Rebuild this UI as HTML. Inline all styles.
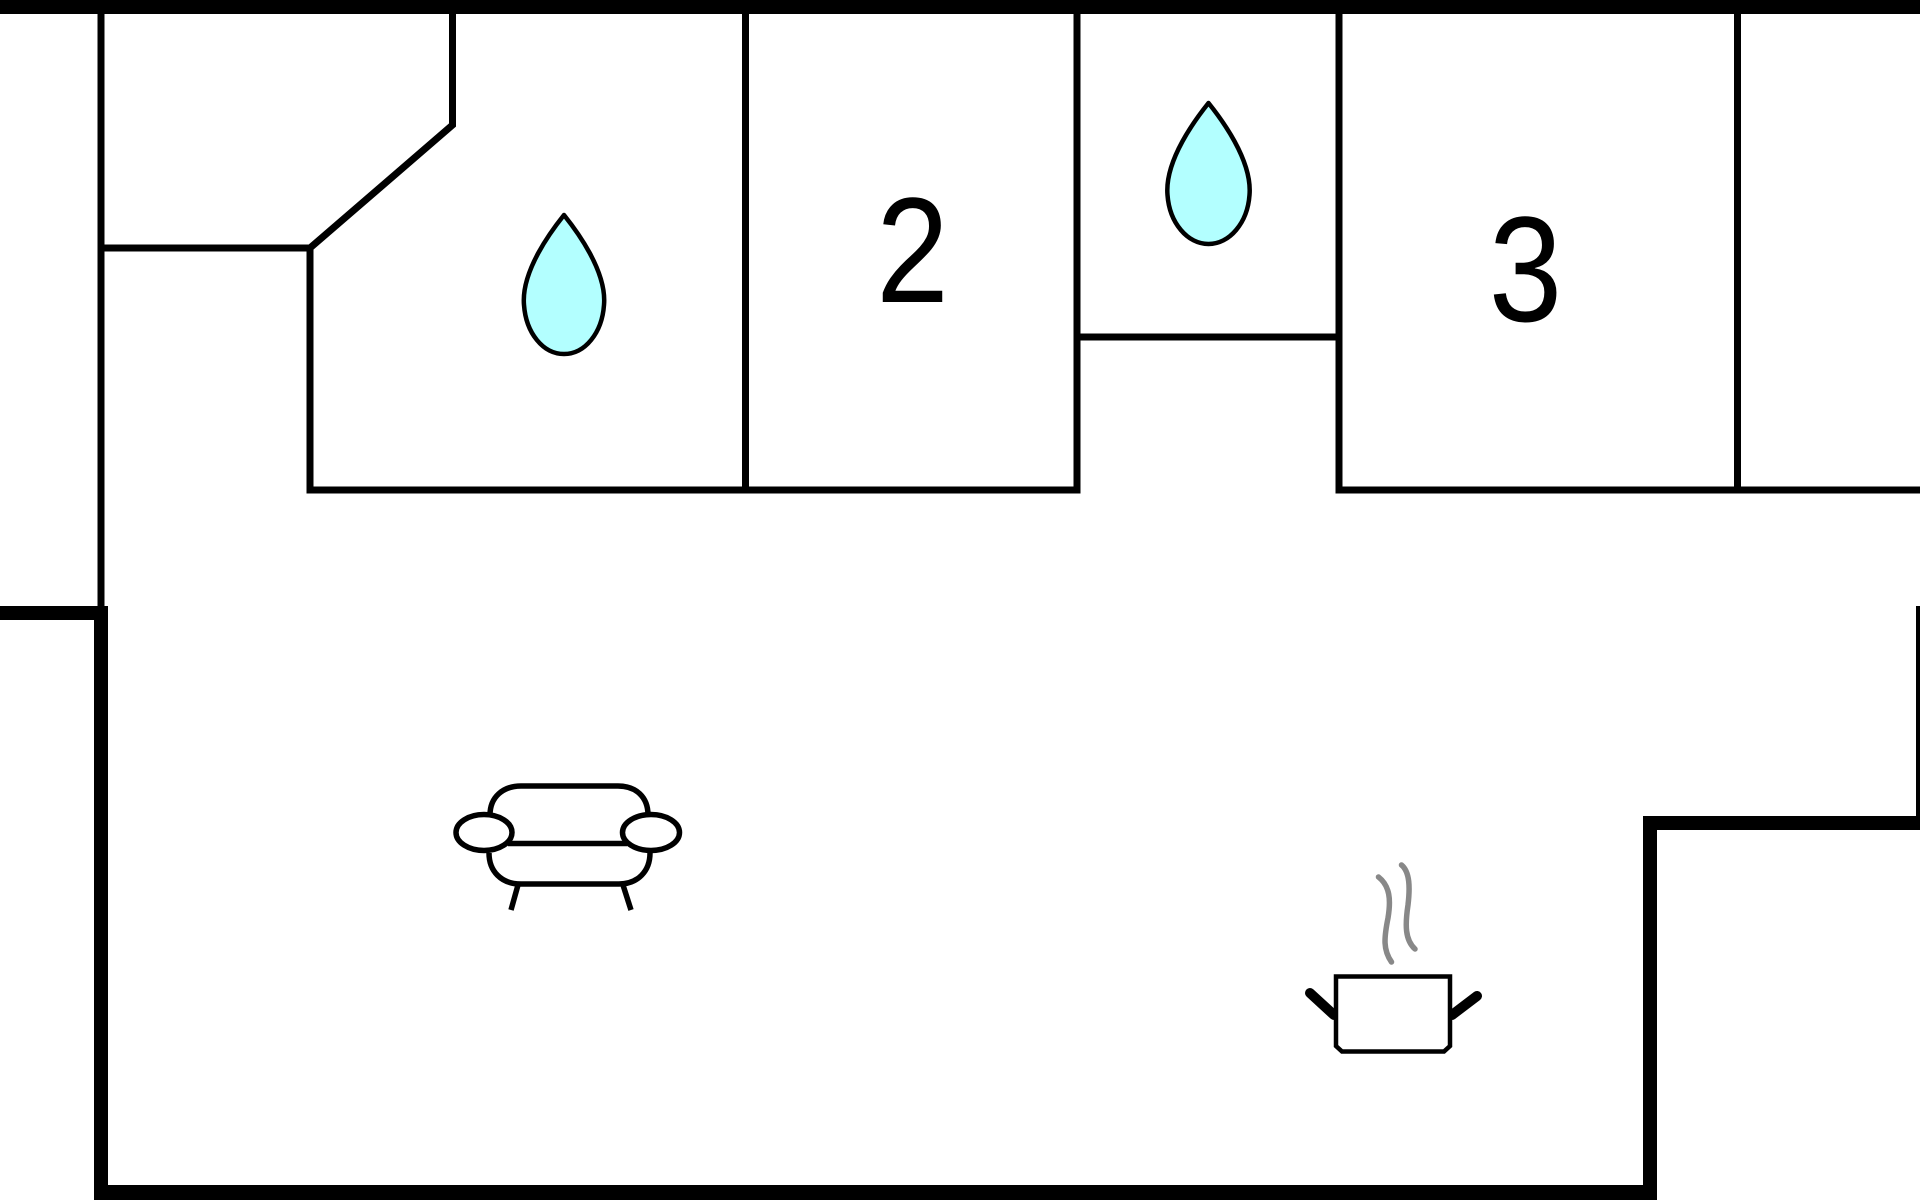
<!DOCTYPE html>
<html>
<head>
<meta charset="utf-8">
<style>
  html, body { margin: 0; padding: 0; background: #fff; }
  body { width: 1920px; height: 1200px; overflow: hidden; }
  svg { display: block; }
</style>
</head>
<body>
<svg width="1920" height="1200" viewBox="0 0 1920 1200" xmlns="http://www.w3.org/2000/svg">
  <rect x="0" y="0" width="1920" height="1200" fill="#ffffff"/>

  <!-- Top thick wall -->
  <rect x="0" y="0" width="1920" height="14" fill="#000"/>

  <!-- Thin interior walls -->
  <g stroke="#000" stroke-width="7" fill="none" stroke-linecap="butt" stroke-linejoin="miter">
    <line x1="101" y1="10" x2="101" y2="608"/>
    <polyline points="452.5,10 452.5,125 310,248 310,493.5"/>
    <line x1="101" y1="248" x2="310" y2="248"/>
    <line x1="306.5" y1="490" x2="1080.5" y2="490"/>
    <line x1="745.5" y1="10" x2="745.5" y2="490"/>
    <line x1="1077" y1="10" x2="1077" y2="493.5"/>
    <line x1="1077" y1="337" x2="1339" y2="337"/>
    <line x1="1339" y1="10" x2="1339" y2="493.5"/>
    <line x1="1335.5" y1="490" x2="1924" y2="490"/>
    <line x1="1737.5" y1="10" x2="1737.5" y2="490"/>
  </g>
  <!-- Right edge thin wall -->
  <rect x="1916" y="606" width="4" height="212" fill="#000"/>

  <!-- Thick exterior walls -->
  <rect x="0" y="606" width="108" height="14" fill="#000"/>
  <rect x="94" y="606" width="14" height="594" fill="#000"/>
  <rect x="94" y="1185" width="1563" height="15" fill="#000"/>
  <rect x="1643" y="816" width="14" height="384" fill="#000"/>
  <rect x="1643" y="816" width="277" height="14" fill="#000"/>

  <!-- Water drops -->
  <g fill="#b3ffff" stroke="#000" stroke-width="4.5" stroke-linejoin="round">
    <path transform="translate(564,215)" d="M0,0 C-12,15 -43,56 -40,90 C-38,118 -21,139 0,139 C21,139 38,118 40,90 C43,56 12,15 0,0 Z"/>
    <path transform="translate(1208.5,103)" d="M0,0 C-12,15 -44,57 -41,92 C-39,120 -21,141 0,141 C21,141 39,120 41,92 C44,57 12,15 0,0 Z"/>
  </g>

  <!-- Room numbers -->
  <g font-family="'Liberation Sans', Arial, sans-serif" font-size="150" fill="#000" text-anchor="middle">
    <text transform="translate(912.5,302) scale(0.87,1)">2</text>
    <text transform="translate(1525.5,321) scale(0.88,1)">3</text>
  </g>

  <!-- Sofa -->
  <g stroke="#000" stroke-width="5.5" fill="none" stroke-linecap="butt">
    <path d="M490,815 C490,797 503,786 521,786 L618,786 C636,786 648,797 648,815"/>
    <path d="M489,853 C489,871 501,884 521,884 L619,884 C638,884 650,871 650,853"/>
    <line x1="508" y1="843.5" x2="627" y2="843.5"/>
    <ellipse cx="484" cy="832.5" rx="28" ry="18"/>
    <ellipse cx="651" cy="832.5" rx="28.5" ry="18"/>
    <line x1="518" y1="885" x2="511" y2="910"/>
    <line x1="623" y1="885" x2="631" y2="910"/>
  </g>

  <!-- Cooking pot -->
  <g fill="none" stroke-linecap="round">
    <path d="M1378.5,877 C1390,886 1391,900 1388,918 C1384,938 1383,950 1391.5,962" stroke="#888" stroke-width="5.5"/>
    <path d="M1401.5,865 C1410,872 1410,888 1408,905 C1405,925 1405,940 1415,949" stroke="#888" stroke-width="5.5"/>
  </g>
  <g stroke="#000" fill="none">
    <line x1="1310" y1="993" x2="1334" y2="1015" stroke-width="10" stroke-linecap="round"/>
    <line x1="1452" y1="1015" x2="1477" y2="996" stroke-width="10" stroke-linecap="round"/>
    <path d="M1336,976.5 L1450,976.5 L1450,1046 L1444,1051.5 L1342,1051.5 L1336,1046 Z" stroke-width="4.5" stroke-linejoin="miter" fill="#fff"/>
  </g>
</svg>
</body>
</html>
